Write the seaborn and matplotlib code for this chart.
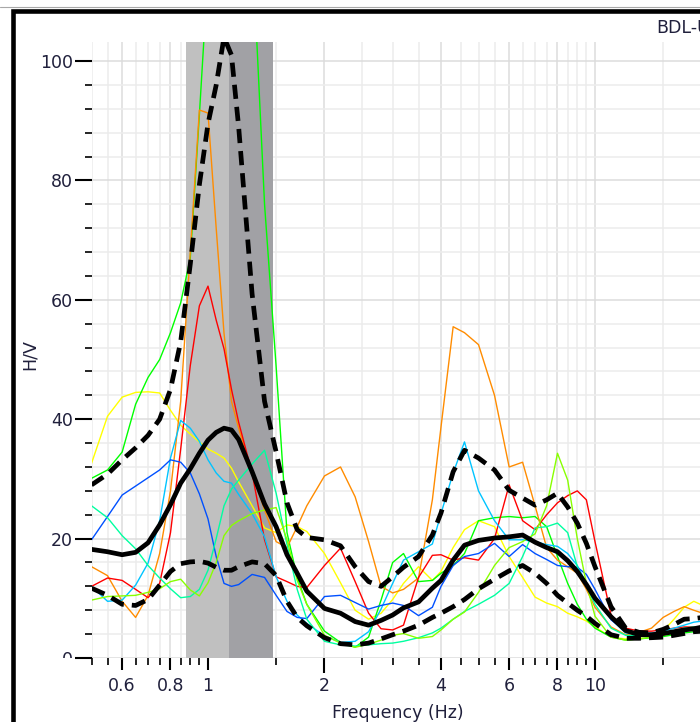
import numpy as np
import pandas as pd
import matplotlib
matplotlib.use("Agg")
import matplotlib.pyplot as plt
import seaborn as sns
from matplotlib.ticker import FixedLocator, NullFormatter, FuncFormatter
from matplotlib.patches import Rectangle
from matplotlib.lines import Line2D
from matplotlib.transforms import Bbox, TransformedBbox

# ---------------------------------------------------------
#   DATA
# ---------------------------------------------------------
freq = [0.5, 0.55, 0.6, 0.65, 0.7, 0.75, 0.8, 0.85, 0.9, 0.95,
        1.0, 1.05, 1.1, 1.15, 1.2, 1.3, 1.4, 1.5, 1.6, 1.7,
        1.8, 2.0, 2.2, 2.4, 2.6, 2.8, 3.0, 3.2, 3.5, 3.8,
        4.0, 4.3, 4.6, 5.0, 5.5, 6.0, 6.5, 7.0, 7.5, 8.0,
        8.5, 9.0, 9.5, 10, 11, 12, 13, 14, 15, 16,
        17, 18, 19, 20, 22]

hv_mean = [18.2, 17.8, 17.3, 17.7, 19.3, 22.3, 25.7, 29.3, 31.7, 34.3,
           36.5, 37.8, 38.5, 38.2, 36.6, 31.2, 25.8, 22.0, 17.3, 14.2,
           11.2, 8.3, 7.5, 6.1, 5.5, 6.3, 7.2, 8.4, 9.4, 11.7,
           13.0, 16.4, 18.9, 19.7, 20.1, 20.3, 20.6, 19.4, 18.5, 17.8,
           16.3, 14.5, 12.3, 10.0, 6.9, 4.6, 3.9, 3.9, 4.1, 4.4,
           4.7, 4.9, 5.2, 5.5, 5.8]

hv_upper = [29.0, 30.8, 33.2, 35.2, 37.3, 40.0, 45.0, 53.0, 66.0, 79.3,
            89.5, 96.0, 104.0, 101.0, 89.0, 61.0, 43.0, 34.5, 26.0, 21.5,
            20.2, 19.8, 18.8, 15.3, 12.8, 12.0, 13.6, 15.2, 17.0, 20.6,
            24.3, 31.2, 34.8, 33.5, 31.5, 28.1, 26.8, 25.6, 26.5, 27.6,
            25.3, 22.6, 19.2, 15.3, 8.6, 5.0, 4.3, 4.2, 4.8, 5.6,
            6.5, 6.6, 6.8, 7.0, 7.0]

hv_lower = [11.7, 10.5, 9.0, 8.8, 9.8, 12.2, 14.5, 15.8, 16.1, 16.2,
            15.9, 15.2, 14.7, 14.7, 15.3, 16.1, 15.8, 13.8, 9.5, 6.8,
            5.4, 3.4, 2.4, 2.2, 2.5, 3.2, 3.9, 4.5, 5.5, 6.8,
            7.5, 8.6, 9.8, 11.6, 13.2, 14.6, 15.5, 14.2, 12.5, 10.5,
            9.2, 8.0, 7.0, 5.8, 3.9, 3.3, 3.3, 3.4, 3.5, 3.8,
            4.1, 4.4, 4.5, 4.6, 4.6]

win_yellow = [32.6, 40.5, 43.7, 44.5, 44.6, 44.4, 41.5, 39.0, 37.5, 36.2,
              35.0, 34.3, 33.5, 31.8, 29.5, 25.5, 21.8, 21.0, 22.3, 22.0,
              21.2, 17.5, 12.6, 8.0, 6.5, 7.5, 9.8, 12.5, 15.3, 13.0,
              14.5, 18.5, 21.5, 23.0, 22.0, 17.0, 13.5, 10.2, 9.2, 8.6,
              7.5, 6.9, 6.2, 5.2, 3.5, 3.2, 3.5, 3.8, 4.5, 6.5,
              8.5, 9.5, 8.8, 7.5, 6.5]

win_green = [30.1, 31.5, 34.5, 42.5, 47.0, 50.0, 54.5, 59.5, 67.0, 91.0,
             115.0, 125.0, 130.0, 130.0, 128.0, 120.0, 76.0, 48.8, 21.0, 13.5,
             9.0, 4.5, 2.6, 1.8, 3.5, 9.7, 16.0, 17.5, 12.8, 13.0,
             14.2, 15.5, 17.5, 23.0, 23.5, 23.7, 23.5, 23.7, 22.0, 17.0,
             12.5, 9.0, 6.5, 5.0, 3.5, 3.0, 3.2, 3.4, 3.6, 3.9,
             4.2, 4.4, 4.5, 4.5, 4.5]

win_orange = [15.3, 13.8, 9.5, 6.8, 10.5, 17.5, 28.0, 43.0, 68.0, 91.8,
              91.3, 72.0, 54.4, 43.0, 38.5, 31.0, 24.8, 19.5, 18.5, 22.0,
              25.5, 30.5, 32.0, 27.0, 19.5, 12.0, 10.9, 11.5, 13.4, 26.5,
              38.7, 55.5, 54.5, 52.5, 44.0, 32.0, 32.8, 25.5, 18.5, 16.4,
              15.3, 14.2, 11.5, 8.5, 5.2, 3.9, 4.3, 5.0, 6.8, 7.8,
              8.6, 8.0, 7.5, 7.2, 7.0]

win_red = [12.0, 13.4, 13.0, 11.5, 10.1, 12.5, 21.0, 35.0, 49.0, 59.0,
           62.3, 56.6, 51.8, 45.0, 39.5, 31.0, 19.8, 13.6, 12.8, 12.0,
           11.8, 15.5, 18.4, 12.8, 7.5, 4.9, 4.7, 5.5, 13.5, 17.2,
           17.3, 16.4, 16.8, 16.4, 20.0, 29.0, 23.0, 21.5, 24.0, 26.0,
           27.2, 28.0, 26.5, 19.5, 7.2, 5.0, 4.5, 4.5, 4.7, 5.0,
           5.2, 5.2, 5.2, 5.3, 5.3]

win_cyan = [12.0, 9.5, 9.7, 12.2, 15.9, 23.0, 33.5, 39.8, 38.5, 36.3,
            33.2, 31.0, 29.6, 29.3, 27.4, 24.2, 20.3, 13.6, 9.5, 7.2,
            5.8, 3.7, 2.6, 2.8, 4.4, 8.2, 12.5, 16.4, 17.8, 19.1,
            24.2, 31.0, 36.2, 28.0, 23.0, 19.8, 19.8, 19.5, 19.0, 18.7,
            17.5, 15.5, 12.5, 10.0, 6.5, 4.2, 4.0, 4.2, 4.5, 5.0,
            5.5, 6.0, 6.2, 6.2, 6.2]

win_blue = [19.8, 23.7, 27.3, 28.8, 30.2, 31.5, 33.2, 32.8, 31.0, 27.5,
            23.3, 17.0, 12.5, 12.0, 12.3, 14.0, 13.5, 10.5, 7.8, 6.8,
            6.6, 10.3, 10.5, 9.3, 8.2, 8.8, 9.2, 8.8, 7.1, 8.5,
            12.0, 15.5, 17.0, 17.5, 19.2, 17.0, 19.0, 17.5, 16.5, 15.5,
            15.3, 15.2, 14.0, 11.5, 6.4, 4.5, 4.0, 4.0, 4.2, 4.5,
            4.8, 5.0, 5.0, 5.0, 5.0]

win_aqua = [25.5, 23.5, 20.5, 18.3, 15.5, 13.4, 11.6, 10.1, 10.3, 11.5,
            14.7, 20.0, 25.5, 28.3, 29.8, 32.5, 34.8, 27.6, 19.0, 11.5,
            6.5, 2.8, 2.2, 2.0, 2.2, 2.4, 2.5, 2.8, 3.4, 4.2,
            5.0, 6.5, 7.8, 9.0, 10.5, 12.5, 17.0, 21.8, 22.0, 22.6,
            21.0, 15.3, 12.0, 9.0, 5.0, 3.8, 3.7, 3.9, 4.2, 4.6,
            5.0, 5.2, 5.3, 5.3, 5.3]

win_lime = [9.7, 10.3, 10.4, 10.5, 11.0, 11.6, 12.8, 13.2, 11.4, 10.4,
            12.6, 16.0, 20.5, 22.2, 23.0, 24.2, 24.8, 25.2, 19.8, 13.0,
            9.0, 3.8, 2.5, 1.8, 2.3, 3.0, 3.8, 4.1, 3.3, 3.6,
            4.7, 6.5, 7.7, 11.0, 15.5, 18.5, 19.5, 20.8, 25.5, 34.3,
            29.8, 20.0, 12.5, 7.0, 3.5, 3.0, 3.2, 3.5, 3.8, 4.2,
            4.6, 4.8, 4.9, 5.0, 5.0]

# peak frequency and its standard deviation band
f0 = 1.131
f0_low = 0.878
f0_high = 1.468

x_ticks = [0.6, 0.8, 1, 2, 4, 6, 8, 10, 20]
x_minor = [0.5, 0.55, 0.65, 0.7, 0.75, 0.85, 0.9, 0.95, 1.5,
           2.5, 3, 3.5, 4.5, 5, 5.5, 6.5, 7, 7.5, 8.5, 9, 9.5, 15]
y_ticks = [0, 20, 40, 60, 80, 100]

windows = {
    "yellow": (win_yellow, "#ffff00"),
    "green": (win_green, "#00ff00"),
    "orange": (win_orange, "#ff8c00"),
    "red": (win_red, "#ff0000"),
    "cyan": (win_cyan, "#00c4ff"),
    "blue": (win_blue, "#0050ff"),
    "aqua": (win_aqua, "#00ffa0"),
    "lime": (win_lime, "#88ff00"),
}

rows = []
for name, (vals, _) in windows.items():
    for f, v in zip(freq, vals):
        rows.append({"window": name, "freq": f, "hv": v})
df = pd.DataFrame(rows)
palette = {name: c for name, (_, c) in windows.items()}

# ---------------------------------------------------------
#   FIGURE
# ---------------------------------------------------------
sns.set_style("white")
plt.rcParams["font.family"] = ["DejaVu Sans"]
txt_col = "#20203c"

fig = plt.figure(figsize=(7.0, 7.22), dpi=100)
W, H = 700, 722
ax = fig.add_axes([91.5 / W, 64 / H, 620 / W, 616 / H])

ax.axvspan(f0_low, f0, color="#c0c0c0", lw=0, zorder=1)
ax.axvspan(f0, f0_high, color="#a1a1a5", lw=0, zorder=1)

sns.lineplot(data=df, x="freq", y="hv", hue="window", palette=palette,
             estimator=None, legend=False, lw=1.0, ax=ax, zorder=3)

sns.lineplot(x=freq, y=hv_mean, color="black", lw=3.4, ax=ax, zorder=5)
for band in (hv_upper, hv_lower):
    sns.lineplot(x=freq, y=band, color="black", lw=3.4,
                 linestyle=(0, (3.0, 1.7)), ax=ax, zorder=5)

ax.set_xscale("log")
ax.set_xlim(0.5, 20)
ax.set_ylim(0, 103.2)
ax.set_xlabel("")
ax.set_ylabel("")

ax.xaxis.set_major_locator(FixedLocator(x_ticks))
ax.xaxis.set_major_formatter(FuncFormatter(lambda v, p: f"{v:g}"))
ax.xaxis.set_minor_locator(FixedLocator(x_minor))
ax.xaxis.set_minor_formatter(NullFormatter())
ax.yaxis.set_major_locator(FixedLocator(y_ticks))
ax.yaxis.set_minor_locator(FixedLocator([v for v in range(0, 104, 4) if v % 20]))

ax.set_axisbelow(True)
ax.grid(which="major", color="#dcdcdc", lw=1.1)
ax.grid(which="minor", color="#ececec", lw=1.1)
for s in ax.spines.values():
    s.set_visible(False)

ax.tick_params(axis="y", which="major", direction="out", length=12, width=1.5,
               pad=1.5, labelsize=12.5, labelcolor=txt_col, color="black", left=True)
ax.tick_params(axis="y", which="minor", direction="out", length=5, width=1.2,
               color="black", left=True)
ax.tick_params(axis="x", which="major", direction="out", length=8.5, width=1.5,
               pad=5, labelsize=12.5, labelcolor=txt_col, color="black", bottom=True)
ax.tick_params(axis="x", which="minor", direction="out", length=5, width=1.2,
               color="black", bottom=True)

for t in ax.xaxis.get_major_ticks():
    if t.get_loc() in (1, 10):
        t.tick1line.set_markersize(10.5)

# the "0" label is cut at the axis bottom in the original
zero_lab = ax.yaxis.get_major_ticks()[0].label1
zero_lab.set_clip_box(TransformedBbox(Bbox([[0, 64 / H], [1, 1]]), fig.transFigure))
zero_lab.set_clip_on(True)

fig.text(30 / W, 1 - 355 / H, "H/V", rotation=90, ha="center", va="center",
         fontsize=12.5, color=txt_col)
fig.text(398 / W, 1 - 713 / H, "Frequency (Hz)", ha="center", va="center",
         fontsize=12.5, color=txt_col)
fig.text(656 / W, 1 - 28 / H, "BDL-U1", ha="left", va="center",
         fontsize=12.5, color=txt_col)

# window frame
fig.add_artist(Line2D([0, 1], [1 - 7 / H] * 2, color="#a8a8a8", lw=0.8,
                      transform=fig.transFigure))
fig.add_artist(Rectangle((13 / W, -0.5), 2.0, 0.5 + 1 - 10.8 / H,
                         transform=fig.transFigure, fill=False,
                         edgecolor="black", lw=3.3, clip_on=False))

fig.savefig("out.png", dpi=100)
